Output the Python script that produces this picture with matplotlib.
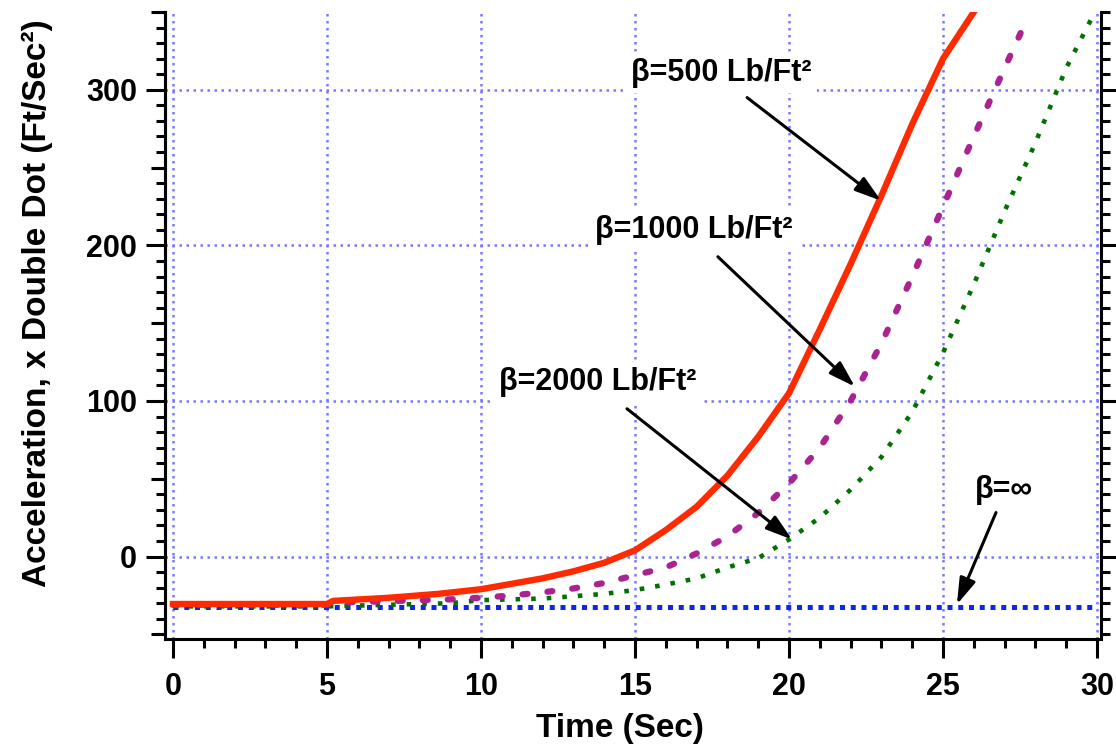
import matplotlib.pyplot as plt
from matplotlib.ticker import MultipleLocator

plt.rcParams['font.family'] = ['Liberation Sans', 'DejaVu Sans']
plt.rcParams['font.weight'] = 'bold'

# curves (time in sec, acceleration in ft/sec^2)
t_500 = [0, 5, 5.2, 7, 8.6, 10, 11, 12, 13, 14, 15, 16, 17, 18, 19, 20, 21, 22, 23, 24, 25, 26]
a_500 = [-30.5, -30.5, -28.5, -26.5, -24, -21, -17.5, -14, -9.5, -4, 4, 17, 32, 52, 77, 105, 146, 188, 232, 278, 320, 350]

t_1000 = [0, 5, 5.5, 9, 10, 11, 12, 13, 14, 15, 16, 17, 18, 19, 20, 21, 22, 23, 24, 25, 26, 27, 27.6]
a_1000 = [-31, -31, -29.5, -27.5, -26.5, -25, -23, -20.5, -17, -12, -7, 2, 13, 28, 47, 70, 100, 137, 180, 225, 270, 314, 340]

t_2000 = [0, 5, 9, 10, 12, 13, 14, 15, 16, 17, 18, 19, 20, 21, 22, 23, 24, 25, 26, 27, 28, 29, 29.8]
a_2000 = [-32, -32, -30, -28, -27, -25.5, -24, -21.5, -18, -14, -7, -1, 11, 25, 43, 64, 93, 131, 175, 222, 266, 314, 345]

t_inf = [0, 30]
a_inf = [-32.2, -32.2]

labels = ['β=500 Lb/Ft²', 'β=1000 Lb/Ft²', 'β=2000 Lb/Ft²', 'β=∞']
label_xy = [(17.8, 311), (16.9, 210), (13.8, 112), (26.98, 43)]
arrow_from = [(18.64, 295), (17.69, 192.7), (14.74, 95), (26.72, 28.3)]
arrow_to = [(22.99, 228.7), (22.14, 109.2), (20.1, 10.9), (25.45, -30.8)]

fig = plt.figure(figsize=(11.16, 7.46), dpi=100)
ax = fig.add_axes([0.1478, 0.1434, 0.8388, 0.8405])

ax.plot(t_inf, a_inf, color='#0a28e6', lw=3.6, ls=(0, (1, 1.15)), zorder=3)
ax.plot(t_2000, a_2000, color='#007200', lw=3.3, ls=(0, (1, 2.4)), zorder=4)
ax.plot(t_1000, a_1000, color='#aa2390', lw=4.5, ls=(0, (0.8, 3.2)),
        dash_capstyle='round', zorder=5)
ax.plot(t_500, a_500, color='#ff2a00', lw=4.6, zorder=6)

ax.set_xlim(-0.26, 30.13)
ax.set_ylim(-53, 350)

ax.xaxis.set_major_locator(MultipleLocator(5))
ax.xaxis.set_minor_locator(MultipleLocator(1))
ax.yaxis.set_major_locator(MultipleLocator(100))
ax.yaxis.set_minor_locator(MultipleLocator(10))

ax.tick_params(axis='both', which='major', length=14, width=2.2, labelsize=22)
ax.tick_params(axis='both', which='minor', length=6.5, width=2.2)
ax.tick_params(axis='y', which='both', right=True)
ax.tick_params(axis='x', which='major', pad=10)
ax.tick_params(axis='y', which='major', pad=6)

sec = ax.secondary_yaxis('left')
sec.set_yticks([-50, 50, 150, 250, 350])
sec.tick_params(length=10, width=2.2, labelleft=False)
sec.spines['left'].set_linewidth(2.2)

for s in ['left', 'bottom', 'right']:
    ax.spines[s].set_linewidth(2.2)
ax.spines['top'].set_visible(False)

ax.grid(True, which='major', color='#7878ff', lw=1.8, ls=(0, (1, 1.8)))
ax.set_axisbelow(True)

ax.set_xlabel('Time (Sec)', fontsize=24, fontweight='bold')
ax.set_ylabel('Acceleration, x Double Dot (Ft/Sec²)', fontsize=24, fontweight='bold')
ax.xaxis.set_label_coords(0.486, -0.118)
ax.yaxis.set_label_coords(-0.12, 0.535)

for txt, pos, a0, a1 in zip(labels, label_xy, arrow_from, arrow_to):
    ax.text(pos[0], pos[1], txt, fontsize=22, fontweight='bold', ha='center', va='center',
            bbox=dict(facecolor='white', edgecolor='none', pad=4), zorder=8)
    ax.annotate('', xy=a1, xytext=a0,
                arrowprops=dict(arrowstyle='-|>,head_length=0.8,head_width=0.25',
                                mutation_scale=20, lw=2.2, color='black',
                                shrinkA=0, shrinkB=0), zorder=9)

plt.savefig('out.png', dpi=100)
